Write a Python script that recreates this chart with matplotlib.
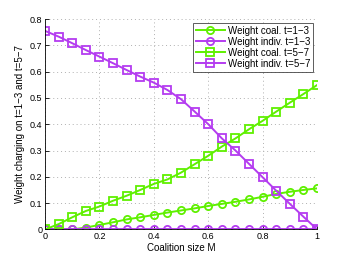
import matplotlib.pyplot as plt
import numpy as np

plt.rcParams['font.family'] = ['Liberation Sans', 'DejaVu Sans']

M = np.linspace(0, 1, 21)

coal_13 = [0.0, 0.0, 0.0, 0.007, 0.017, 0.027, 0.038, 0.046, 0.055, 0.064, 0.072,
           0.080, 0.089, 0.097, 0.105, 0.114, 0.124, 0.135, 0.143, 0.150, 0.156]
indiv_13 = [0.0] * 21
coal_57 = [0.0, 0.02, 0.046, 0.07, 0.087, 0.109, 0.128, 0.15, 0.173, 0.19, 0.216,
           0.248, 0.28, 0.315, 0.346, 0.381, 0.413, 0.448, 0.482, 0.515, 0.549]
indiv_57 = [0.755, 0.733, 0.708, 0.682, 0.657, 0.632, 0.606, 0.581, 0.558, 0.530, 0.495,
            0.448, 0.40, 0.346, 0.30, 0.249, 0.198, 0.147, 0.097, 0.048, 0.0]

green = '#5ff000'
purple = '#b43cf0'

fig = plt.figure(figsize=(3.5, 2.59), dpi=100)
ax = fig.add_axes([0.1286, 0.1143, 0.7774, 0.8123])

kw = dict(lw=1.4, ms=5.2, mfc='none', mew=1.3)
ax.plot(M, coal_13, '-o', color=green, label='Weight coal. t=1\u22123', **kw)
ax.plot(M, indiv_13, '-o', color=purple, label='Weight indiv. t=1\u22123', **kw)
ax.plot(M, coal_57, '-s', color=green, label='Weight coal. t=5\u22127', **kw)
ax.plot(M, indiv_57, '-s', color=purple, label='Weight indiv. t=5\u22127', **kw)

ax.set_xlim(0, 1)
ax.set_ylim(0, 0.8)
ax.set_xticks([0, 0.2, 0.4, 0.6, 0.8, 1])
ax.set_xticklabels(['0', '0.2', '0.4', '0.6', '0.8', '1'])
ax.set_yticks(np.arange(0, 0.81, 0.1))
ax.set_yticklabels(['0', '0.1', '0.2', '0.3', '0.4', '0.5', '0.6', '0.7', '0.8'])
ax.tick_params(direction='in', labelsize=6.5, length=3, width=0.6, pad=2)
ax.grid(True, ls=(0, (1, 3)), color='#b0b0b0', lw=0.7)
ax.spines['top'].set_visible(False)
ax.spines['right'].set_visible(False)
ax.spines['left'].set_linewidth(0.6)
ax.spines['bottom'].set_linewidth(0.6)

ax.set_xlabel('Coalition size M', fontsize=7, labelpad=1)
ax.set_ylabel('Weight charging on t=1\u22123 and t=5\u22127', fontsize=7, labelpad=3)

leg = ax.legend(loc='upper right', fontsize=7, frameon=True, fancybox=False,
                edgecolor='#333333', borderpad=0.3, labelspacing=0.1,
                handlelength=3, handletextpad=0.3, borderaxespad=0.4)
leg.get_frame().set_linewidth(0.7)

fig.savefig('out.png', dpi=100)
